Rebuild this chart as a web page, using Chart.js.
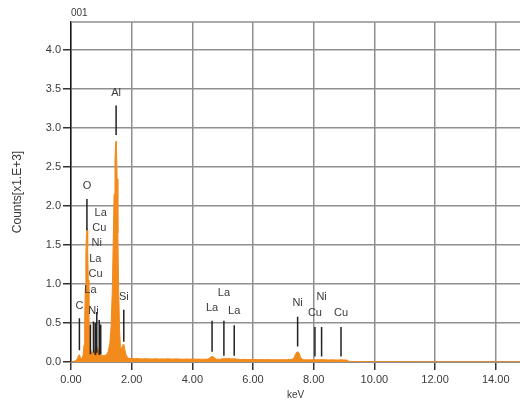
<!DOCTYPE html>
<html>
<head>
<meta charset="utf-8">
<script src="https://cdn.jsdelivr.net/npm/chart.js@4/dist/chart.umd.min.js"></script>
<style>
  html, body { margin: 0; padding: 0; background: #ffffff; }
  canvas { display: block; }
</style>
</head>
<body>
<canvas id="eds" width="520" height="404"></canvas>
<script>
// EDS spectrum, sample 001: energy (keV) and counts (x1000)
const energies = [
  0.00, 0.08, 0.14, 0.18, 0.21, 0.24, 0.26, 0.28, 0.31, 0.34, 0.37, 0.40, 0.43, 0.45, 0.47, 0.49,
  0.51, 0.52, 0.535, 0.55, 0.57, 0.59, 0.61, 0.63, 0.66, 0.70, 0.74, 0.78, 0.81, 0.84, 0.87, 0.90,
  0.94, 0.98, 1.03, 1.08, 1.13, 1.18, 1.23, 1.28, 1.32, 1.36, 1.39, 1.42, 1.45, 1.47, 1.485, 1.50,
  1.52, 1.545, 1.57, 1.60, 1.63, 1.66, 1.69, 1.72, 1.745, 1.77, 1.80, 1.84, 1.89, 1.94,
  2.0, 2.1, 2.2, 2.3, 2.4, 2.5, 2.6, 2.7, 2.8, 2.9, 3.0, 3.1, 3.2, 3.3, 3.4, 3.5, 3.6, 3.7, 3.8,
  3.9, 4.0, 4.1, 4.2, 4.3, 4.4, 4.5, 4.55, 4.6, 4.65, 4.7, 4.75, 4.8, 4.9, 5.0, 5.05, 5.1, 5.2,
  5.3, 5.4, 5.5, 5.6, 5.7, 5.8, 5.9, 6.0, 6.1, 6.2, 6.3, 6.4, 6.5, 6.6, 6.7, 6.8, 6.9, 7.0, 7.1,
  7.2, 7.3, 7.36, 7.40, 7.44, 7.48, 7.52, 7.56, 7.60, 7.65, 7.7, 7.8, 7.9, 8.0, 8.05, 8.1, 8.2,
  8.3, 8.4, 8.5, 8.6, 8.7, 8.8, 8.9, 9.0, 9.1, 9.15, 9.2, 9.3, 9.4, 9.5, 9.6, 9.7, 9.8, 9.9, 10.0,
  10.2, 10.4, 10.6, 10.8, 11.0, 11.2, 11.5, 12.0, 13.0, 14.0, 14.8
];
const counts = [
  0.000, 0.005, 0.015, 0.025, 0.045, 0.075, 0.095, 0.090, 0.060, 0.045, 0.050, 0.090, 0.220, 0.500, 0.950, 1.380,
  1.650, 1.720, 1.690, 1.480, 1.050, 0.620, 0.340, 0.200, 0.140, 0.115, 0.125, 0.150, 0.180, 0.200, 0.185, 0.150,
  0.115, 0.095, 0.085, 0.080, 0.085, 0.100, 0.140, 0.240, 0.450, 0.900, 1.500, 2.150, 2.600, 2.800, 2.830, 2.720,
  2.350, 1.650, 0.950, 0.420, 0.200, 0.165, 0.200, 0.225, 0.215, 0.170, 0.110, 0.070, 0.052, 0.047,
  0.045, 0.042, 0.044, 0.040, 0.041, 0.043, 0.039, 0.040, 0.042, 0.038, 0.040, 0.039, 0.041, 0.037, 0.039, 0.040, 0.038, 0.036, 0.039,
  0.037, 0.038, 0.036, 0.037, 0.035, 0.036, 0.038, 0.045, 0.060, 0.075, 0.065, 0.045, 0.036, 0.035, 0.042, 0.045, 0.043, 0.044,
  0.040, 0.041, 0.035, 0.033, 0.034, 0.032, 0.033, 0.031, 0.032, 0.030, 0.031, 0.030, 0.031, 0.029, 0.030, 0.029, 0.030, 0.029, 0.030,
  0.031, 0.036, 0.060, 0.100, 0.125, 0.130, 0.110, 0.070, 0.040, 0.031, 0.029, 0.028, 0.028, 0.030, 0.032, 0.030, 0.029,
  0.030, 0.028, 0.027, 0.028, 0.027, 0.026, 0.028, 0.026, 0.025, 0.012, 0.006, 0.008, 0.004, 0.007, 0.003, 0.006, 0.004, 0.006, 0.003,
  0.005, 0.004, 0.005, 0.003, 0.004, 0.002, 0.002, 0.002, 0.002, 0.002, 0.002
];

// Axis ticks
const xTicks = [0, 2, 4, 6, 8, 10, 12, 14];
const yTicks = [0, 0.5, 1.0, 1.5, 2.0, 2.5, 3.0, 3.5, 4.0];

// Element line markers: name, energy (keV), marker span and label height (counts x1000)
const lineNames    = ['C', 'O', 'La', 'Ni', 'La', 'Cu', 'Ni', 'Cu', 'La', 'Al', 'Si', 'La', 'La', 'La', 'Ni', 'Cu', 'Ni', 'Cu'];
const lineEnergies = [0.277, 0.525, 0.64, 0.74, 0.80, 0.81, 0.85, 0.93, 0.98, 1.487, 1.74, 4.65, 5.04, 5.38, 7.47, 8.04, 8.26, 8.90];
const lineLow      = [0.15, 1.69, 0.10, 0.12, 0.09, 0.09, 0.12, 0.09, 0.10, 2.91, 0.26, 0.13, 0.08, 0.08, 0.20, 0.07, 0.07, 0.07];
const lineHigh     = [0.56, 2.09, 0.48, 0.52, 0.50, 0.46, 0.64, 0.54, 0.48, 3.29, 0.67, 0.53, 0.53, 0.47, 0.58, 0.45, 0.45, 0.45];
const labelLevel   = [0.72, 2.26, 0.92, 0.66, 1.32, 1.13, 1.53, 1.72, 1.91, 3.45, 0.83, 0.69, 0.89, 0.65, 0.76, 0.63, 0.84, 0.63];

const X_MAX = 14.8;
const Y_MAX = 4.36;

const spectrum = energies.map((e, i) => ({ x: e, y: counts[i] }));

// marker segments joined into one dataset, separated by gaps
const markerPoints = [];
lineEnergies.forEach((e, i) => {
  markerPoints.push({ x: e, y: lineLow[i] });
  markerPoints.push({ x: e, y: lineHigh[i] });
  markerPoints.push({ x: e, y: null });
});

const TEXT = '#3a3a3a';
const FONT = 'Liberation Sans, Arial, sans-serif';

const markerLabels = {
  id: 'markerLabels',
  afterDatasetsDraw(chart) {
    const { ctx, scales } = chart;
    ctx.save();
    ctx.fillStyle = TEXT;
    ctx.font = '11px ' + FONT;
    ctx.textAlign = 'center';
    ctx.textBaseline = 'middle';
    lineNames.forEach((name, i) => {
      ctx.fillText(name, scales.x.getPixelForValue(lineEnergies[i]), scales.y.getPixelForValue(labelLevel[i]));
    });
    ctx.restore();
  }
};

const frame = {
  id: 'frame',
  afterDraw(chart) {
    const { ctx, chartArea } = chart;
    ctx.save();
    // top edge of the plot
    ctx.strokeStyle = '#8f8f8f';
    ctx.lineWidth = 1.5;
    ctx.beginPath();
    ctx.moveTo(chartArea.left, chartArea.top);
    ctx.lineTo(chartArea.right, chartArea.top);
    ctx.stroke();
    // spectrum name
    ctx.fillStyle = TEXT;
    ctx.font = '10px ' + FONT;
    ctx.textAlign = 'left';
    ctx.textBaseline = 'middle';
    ctx.fillText('001', chartArea.left, 13);
    ctx.restore();
  }
};

new Chart(document.getElementById('eds'), {
  type: 'line',
  data: {
    datasets: [
      {
        label: 'markers',
        data: markerPoints,
        borderColor: '#222222',
        borderWidth: 1.5,
        pointRadius: 0,
        spanGaps: false,
        fill: false,
        order: 0
      },
      {
        label: '001',
        data: spectrum,
        borderColor: '#f28a1c',
        backgroundColor: '#f28a1c',
        borderWidth: 1,
        pointRadius: 0,
        tension: 0,
        fill: 'origin',
        order: 1
      }
    ]
  },
  options: {
    responsive: false,
    animation: false,
    layout: { padding: { top: 22, right: 0, bottom: 0, left: 0 } },
    plugins: { legend: { display: false }, tooltip: { enabled: false } },
    scales: {
      x: {
        type: 'linear',
        min: 0,
        max: X_MAX,
        afterBuildTicks(scale) { scale.ticks = xTicks.map(v => ({ value: v })); },
        afterFit(scale) { scale.height = 42; },
        ticks: {
          includeBounds: false,
          maxRotation: 0,
          padding: 3,
          color: TEXT,
          font: { family: FONT, size: 11 },
          callback: v => Number(v).toFixed(2)
        },
        grid: { color: '#8f8f8f', lineWidth: 1.5, tickLength: 8, tickColor: '#333333', tickWidth: 1.5 },
        border: { color: '#8f8f8f', width: 1 },
        title: { display: true, text: 'keV', color: TEXT, font: { family: FONT, size: 10 }, padding: { top: 0, bottom: 3 } }
      },
      y: {
        type: 'linear',
        min: 0,
        max: Y_MAX,
        afterBuildTicks(scale) { scale.ticks = yTicks.map(v => ({ value: v })); },
        afterFit(scale) { scale.width = 71; },
        ticks: {
          includeBounds: false,
          padding: 2,
          color: TEXT,
          font: { family: FONT, size: 11 },
          callback: v => Number(v).toFixed(1)
        },
        grid: { color: '#8f8f8f', lineWidth: 1.5, tickLength: 8, tickColor: '#333333', tickWidth: 1.5 },
        border: { color: '#1a1a1a', width: 1.5 },
        title: { display: true, text: 'Counts[x1.E+3]', color: TEXT, font: { family: FONT, size: 12 }, padding: { top: 10, bottom: 0 } }
      }
    }
  },
  plugins: [markerLabels, frame]
});
</script>
</body>
</html>
